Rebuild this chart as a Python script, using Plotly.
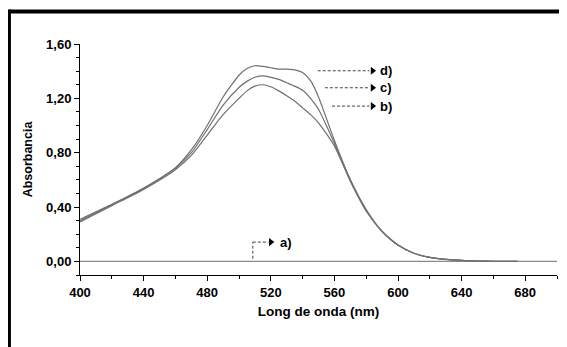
import plotly.graph_objects as go

# ---- data ----
wl = [400, 420, 440, 460, 470, 480, 490, 500, 505, 510, 515, 520, 525, 530, 535, 540, 545, 550,
      560, 570, 580, 590, 600, 610, 620, 630, 640, 650, 660, 675]
abs_d = [0.31, 0.42, 0.54, 0.69, 0.82, 1.00, 1.21, 1.37, 1.42, 1.44, 1.435, 1.425, 1.415, 1.415, 1.41, 1.39, 1.33, 1.21,
         0.89, 0.60, 0.38, 0.22, 0.12, 0.06, 0.03, 0.015, 0.007, 0.003, 0.001, 0.0]
abs_c = [0.30, 0.415, 0.535, 0.685, 0.80, 0.97, 1.15, 1.28, 1.325, 1.355, 1.365, 1.355, 1.34, 1.315, 1.29, 1.26, 1.20, 1.12,
         0.87, 0.60, 0.38, 0.22, 0.12, 0.06, 0.03, 0.015, 0.007, 0.003, 0.001, 0.0]
abs_b = [0.29, 0.41, 0.53, 0.675, 0.78, 0.93, 1.08, 1.20, 1.255, 1.29, 1.30, 1.285, 1.255, 1.22, 1.18, 1.13, 1.08, 1.02,
         0.85, 0.59, 0.37, 0.22, 0.12, 0.06, 0.03, 0.015, 0.007, 0.003, 0.001, 0.0]
wl_a = [400, 700]
abs_a = [0.0, 0.0]

x_tickvals = [400, 440, 480, 520, 560, 600, 640, 680]
x_ticktext = ["400", "440", "480", "520", "560", "600", "640", "680"]
y_tickvals = [0.0, 0.4, 0.8, 1.2, 1.6]
y_ticktext = ["0,00", "0,40", "0,80", "1,20", "1,60"]

# label annotations: (label, arrow start x, arrow end x, y)
labels = ["d)", "c)", "b)"]
label_y = [1.403, 1.278, 1.143]
arrow_x0 = [549.5, 554.0, 558.5]
arrow_x1 = [582.0, 582.0, 582.0]

FONT = "Liberation Sans, Arial, sans-serif"

fig = go.Figure()
fig.add_trace(go.Scatter(x=wl_a, y=abs_a, mode="lines", line=dict(color="#8a8a8a", width=1.2)))
for ys in (abs_b, abs_c, abs_d):
    fig.add_trace(go.Scatter(x=wl, y=ys, mode="lines",
                             line=dict(color="#707070", width=1.2, shape="spline", smoothing=0.6)))

shapes = []
for lab, x0, x1, y in zip(labels, arrow_x0, arrow_x1, label_y):
    shapes.append(dict(type="line", xref="x", yref="y", x0=x0, x1=x1, y0=y, y1=y,
                       line=dict(color="#444", width=1, dash="3px,2px")))
    fig.add_annotation(x=x1 + 5.5, y=y, text="<b>" + lab + "</b>", showarrow=False, xanchor="left",
                       font=dict(family=FONT, size=13, color="black"))
fig.add_trace(go.Scatter(x=[x + 2 for x in arrow_x1], y=label_y, mode="markers",
                         marker=dict(symbol="triangle-right", size=7, color="black")))

# a) elbow arrow
shapes.append(dict(type="line", xref="x", yref="y", x0=508.7, x1=508.7, y0=0.02, y1=0.142,
                   line=dict(color="#444", width=1, dash="3px,2px")))
shapes.append(dict(type="line", xref="x", yref="y", x0=508.7, x1=518.5, y0=0.142, y1=0.142,
                   line=dict(color="#444", width=1, dash="3px,2px")))
fig.add_trace(go.Scatter(x=[520.0], y=[0.142], mode="markers",
                         marker=dict(symbol="triangle-right", size=7, color="black")))
fig.add_annotation(x=524.5, y=0.142, text="<b>a)</b>", showarrow=False, xanchor="left",
                   font=dict(family=FONT, size=13, color="black"))

# frame (top and left black lines); plot area is 477 x 231 px
shapes.append(dict(type="line", xref="paper", yref="paper", x0=-0.149, x1=1.1, y0=1.1407, y1=1.1407,
                   line=dict(color="black", width=4)))
shapes.append(dict(type="line", xref="paper", yref="paper", x0=-0.149, x1=-0.149, y0=1.149, y1=-0.4,
                   line=dict(color="black", width=4)))

tick_font = dict(family=FONT, size=13, color="black")
fig.update_layout(
    width=559, height=339,
    margin=dict(l=72, r=10, t=36, b=72, autoexpand=False),
    paper_bgcolor="white", plot_bgcolor="white",
    showlegend=False,
    shapes=shapes,
    font=tick_font,
    xaxis=dict(range=[400, 700], tickvals=x_tickvals, ticktext=["<b>%s</b>" % t for t in x_ticktext],
               tickfont=tick_font,
               showgrid=False, zeroline=False, showline=True, linecolor="black", linewidth=1,
               ticks="outside", ticklen=5, tickcolor="black",
               minor=dict(ticks="outside", ticklen=3, dtick=20, tick0=400, tickcolor="black", showgrid=False),
               title=dict(text="<b>Long de onda (nm)</b>", standoff=7, font=dict(family=FONT, size=13.5, color="black"))),
    yaxis=dict(range=[-0.1, 1.6], tickvals=y_tickvals, ticktext=["<b>%s</b>" % t for t in y_ticktext],
               tickfont=tick_font,
               showgrid=False, zeroline=False, showline=True, linecolor="black", linewidth=1,
               ticks="outside", ticklen=5, tickcolor="black",
               minor=dict(ticks="outside", ticklen=3, dtick=0.1, tick0=0, tickcolor="black", showgrid=False),
               title=dict(text="<b>Absorbancia</b>", standoff=10, font=dict(family=FONT, size=12.5, color="black"))),
)

fig.write_html("out.html")
